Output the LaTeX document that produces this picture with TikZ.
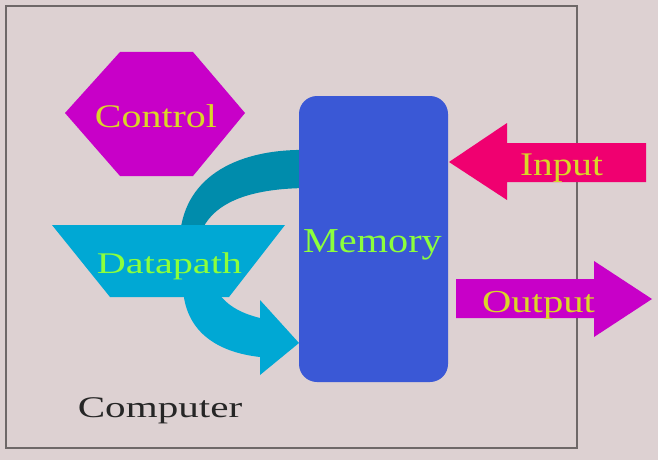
\documentclass[tikz,border=0pt]{standalone}
\usepackage{fontspec}
\setmainfont{Liberation Serif}
\usepackage{graphicx}
\usepackage{tikz}

\definecolor{slidebg}{RGB}{221,209,210}
\definecolor{framegray}{RGB}{110,104,104}
\definecolor{ctrlmag}{RGB}{200,0,200}
\definecolor{inpink}{RGB}{240,0,112}
\definecolor{memblue}{RGB}{58,88,214}
\definecolor{dpcyan}{RGB}{0,168,212}
\definecolor{arcteal}{RGB}{0,140,172}
\definecolor{lblyellow}{RGB}{218,214,40}
\definecolor{lblgreen}{RGB}{140,255,60}

\newcommand{\wtext}[2]{\scalebox{#1}[1]{#2}}
\newcommand{\fsz}[1]{\fontsize{#1}{#1}\selectfont}

\tikzset{
  lbl/.style={anchor=base, inner sep=0pt},
  yellowlbl/.style={lbl, text=lblyellow},
  greenlbl/.style={lbl, text=lblgreen},
}

\begin{document}
\begin{tikzpicture}[x=1pt, y=-1pt]
% slide and frame
\fill[slidebg] (0,0) rectangle (658,460);
\useasboundingbox (0,0) rectangle (658,460);
\draw[framegray, line width=1.2pt] (6,6) rectangle (577,448);

% control unit
\fill[ctrlmag] (65,113) -- (120,52) -- (193,52) -- (245,113) -- (193,176) -- (120,176) -- cycle;
\node[yellowlbl, font=\fsz{33}] (control) at (156,127) {\wtext{1.21}{Control}};

% memory <- datapath (upper arc)
\fill[arcteal] (310,150) .. controls (240,148) and (185,175) .. (180,235)
  -- (200,235) .. controls (212,200) and (255,188) .. (310,188) -- cycle;

% memory
\node[fill=memblue, rounded corners=18pt, minimum width=149pt, minimum height=286pt,
  inner sep=0pt] (memory) at (373.5,239) {};
\node[greenlbl, font=\fsz{35}] (memorylbl) at (372.5,252) {\wtext{1.15}{Memory}};

% datapath -> memory (lower arrow)
\fill[dpcyan] (183,288) .. controls (185,330) and (215,352) .. (260,357)
  -- (260,375) -- (299,343) -- (260,300) -- (260,318)
  .. controls (240,313) and (225,305) .. (215,288) -- cycle;

% datapath
\fill[dpcyan] (52,225) -- (285,225) -- (229,297) -- (110,297) -- cycle;
\node[greenlbl, font=\fsz{30}] (datapath) at (169.5,273) {\wtext{1.34}{Datapath}};

% input and output
\fill[inpink] (449,162) -- (507,123) -- (507,143) -- (646,143) -- (646,182)
  -- (507,182) -- (507,200) -- cycle;
\node[yellowlbl, font=\fsz{33}] (input) at (561.5,175) {\wtext{1.19}{Input}};
\fill[ctrlmag] (456,279) -- (594,279) -- (594,261) -- (652,299) -- (594,337)
  -- (594,318) -- (456,318) -- cycle;
\node[yellowlbl, font=\fsz{32}] (output) at (538.5,312) {\wtext{1.27}{Output}};

\node[lbl, text=black!85, font=\fsz{30}] (computer) at (160,417) {\wtext{1.37}{Computer}};
\end{tikzpicture}
\end{document}
